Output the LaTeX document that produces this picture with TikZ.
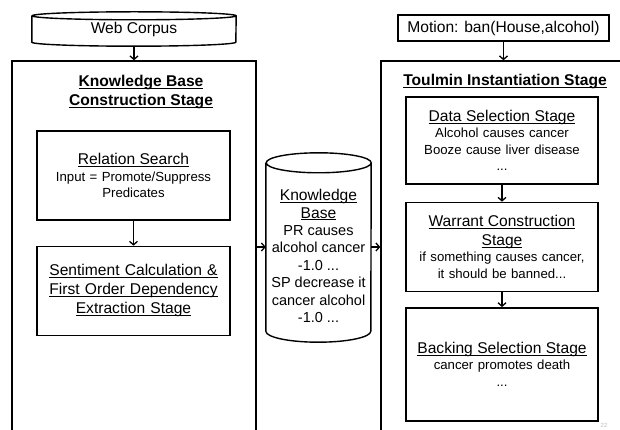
\documentclass[tikz,border=0pt]{standalone}
\usepackage{fontspec}
\setmainfont{Liberation Sans}
\usetikzlibrary{positioning,calc,arrows.meta}

\newcommand{\ul}[1]{\leavevmode\setbox0\hbox{#1}\rlap{\rule[-2.2pt]{\wd0}{0.8pt}}\box0}
\newcommand{\hd}[1]{{\fontsize{15.6}{19}\selectfont\ul{#1}}}

\begin{document}
\begin{tikzpicture}[x=1pt, y=-1pt, >={Straight Barb[length=3.5pt,width=8pt]},
    stage/.style={rectangle, draw, line width=1.4pt, minimum width=244pt, minimum height=384pt},
    box/.style={rectangle, draw, line width=1.4pt, text width=193pt, align=center, minimum height=89pt, inner sep=0pt, font=\fontsize{13.2}{16.5}\selectfont},
    db/.style={rectangle, align=center, inner sep=0pt, font=\fontsize{15.6}{19}\selectfont},
    title/.style={align=center, inner sep=0pt, font=\bfseries\fontsize{15.6}{19}\selectfont},
    flow/.style={->, line width=1.3pt}]

    \useasboundingbox (0,0) rectangle (620,430);
    \clip (0,0) rectangle (620,430);

    % left side
    \node[db, minimum width=204pt, minimum height=26pt] (corpus) at (134,29) {Web Corpus};
    \draw[line width=1.4pt] (corpus.north west) -- (corpus.south west)
        arc[start angle=180, end angle=360, x radius=102pt, y radius=4pt] -- (corpus.north east)
        arc[start angle=0, end angle=360, x radius=102pt, y radius=4pt];

    \node[stage] (kbstage) at (134,253) {};
    \node[title] (kbtitle) at (141,92) {\ul{Knowledge Base}\\\ul{Construction Stage}};

    \node[box] (relsearch) at (133.5,175.5) {\hd{Relation Search}\\Input = Promote/Suppress\\Predicates};
    \node[box, below=25pt of relsearch, font=\fontsize{15.6}{19}\selectfont] (sentiment) {\ul{Sentiment Calculation \&}\\\ul{First Order Dependency}\\\ul{Extraction Stage}};

    % knowledge base
    \node[db, minimum width=105pt, minimum height=168pt, font=\fontsize{14.5}{17.4}\selectfont] (kb) at (318.5,256)
        {\hd{Knowledge}\\\hd{Base}\\PR causes\\alcohol cancer\\-1.0 ...\\SP decrease it\\cancer alcohol\\-1.0 ...};
    \draw[line width=1.4pt] ([yshift=9pt]kb.north west) -- ([yshift=9pt]kb.south west)
        arc[start angle=180, end angle=360, x radius=52.5pt, y radius=11pt] -- ([yshift=9pt]kb.north east)
        arc[start angle=0, end angle=360, x radius=52.5pt, y radius=10pt];
    \coordinate (kbleft) at ([yshift=9pt]kb.west);
    \coordinate (kbright) at ([yshift=9pt]kb.east);

    % right side
    \node[db, draw, line width=1.4pt, minimum width=211pt, minimum height=26pt] (motion) at (503.5,28) {Motion: ban(House,alcohol)};

    \node[stage, minimum width=259pt] (toulmin) at (510.5,253) {};
    \node[title] (tititle) at (505,82) {\ul{Toulmin Instantiation Stage}};

    \node[box, text width=192pt, minimum height=87pt] (dataselect) at (502,140.5)
        {\hd{Data Selection Stage}\\Alcohol causes cancer\\Booze cause liver disease\\...};
    \node[box, text width=192pt, below=17pt of dataselect] (warrant)
        {\hd{Warrant Construction}\\[2.5pt]\hd{Stage}\\if something causes cancer,\\it should be banned...};
    \node[box, text width=192pt, minimum height=113pt, below=15pt of warrant] (backing)
        {\hd{Backing Selection Stage}\\cancer promotes death\\...};

    \node[text=black!25, font=\fontsize{6}{7}\selectfont] (pagenum) at (604,425) {22};

    % arrows
    \draw[flow] ([yshift=-4pt]corpus.south) -- (kbstage.north);
    \draw[flow] (motion) -- (toulmin.north -| motion);
    \draw[flow] (relsearch) -- (sentiment);
    \draw[flow] (dataselect) -- (warrant);
    \draw[flow] (warrant) -- (backing);
    \draw[flow] (kbstage.east |- kbleft) -- (kbleft);
    \draw[flow] (kbright) -- (toulmin.west |- kbright);
\end{tikzpicture}
\end{document}
